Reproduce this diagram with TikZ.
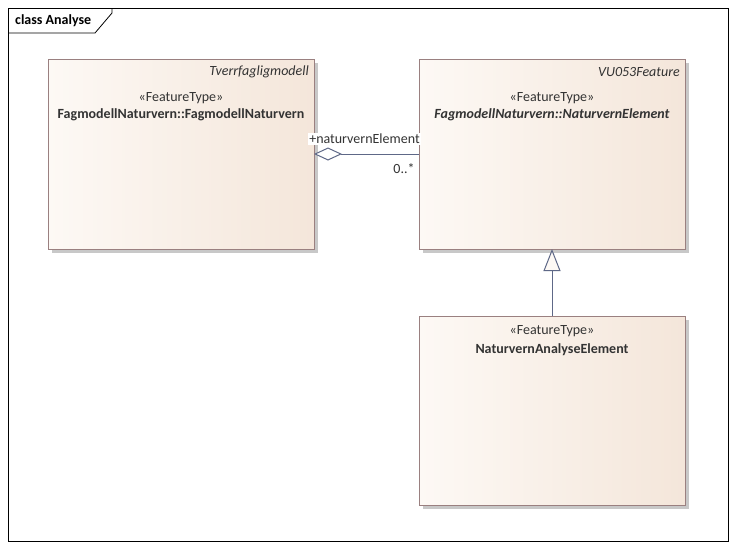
\documentclass[tikz,border=0pt]{standalone}
\usepackage{fontspec}
\setmainfont{Carlito}
\usetikzlibrary{arrows.meta}
\definecolor{boxborder}{HTML}{9A8080}
\definecolor{boxleft}{HTML}{FDF9F5}
\definecolor{boxright}{HTML}{F4E6DA}
\definecolor{linecol}{HTML}{5E6887}
\definecolor{shadowcol}{HTML}{C8C8C8}
\tikzset{
  umlbox/.style={draw=boxborder, line width=0.9pt, left color=boxleft, right color=boxright},
  shadowbox/.style={fill=shadowcol, draw=none},
  txt/.style={inner sep=0pt, font=\fontsize{14}{16}\selectfont, text=black!80},
  conn/.style={draw=linecol, line width=1pt},
}
\begin{document}
\begin{tikzpicture}[x=1pt,y=-1pt]
\useasboundingbox (0,0) rectangle (736,549);
\fill[white] (0,0) rectangle (736,549);
% frame
\draw[line width=0.8pt] (8,8) rectangle (728,541);
\draw[line width=0.8pt] (8,33) -- (95,33) -- (112,13) -- (112,8);
\node[txt, anchor=west, font=\fontsize{14}{16}\selectfont\bfseries, text=black] (title) at (15,20.5) {class Analyse};
% shadows
\fill[shadowbox] (52,63) rectangle (318,253);
\fill[shadowbox] (423,63) rectangle (689,253);
\fill[shadowbox] (423,320) rectangle (689,509);
% boxes
\path[umlbox] (48,59) rectangle (314,249);
\path[umlbox] (419,59) rectangle (685,249);
\path[umlbox] (419,316) rectangle (685,505);
\node[txt, anchor=east, font=\fontsize{14}{16}\selectfont\itshape] (p1) at (309,72) {Tverrfagligmodell};
\node[txt] (s1) at (181,98) {«FeatureType»};
\node[txt, font=\fontsize{14}{16}\selectfont\bfseries] (n1) at (181,115) {FagmodellNaturvern::FagmodellNaturvern};
\node[txt, anchor=east, font=\fontsize{14}{16}\selectfont\itshape] (p2) at (680,72) {VU053Feature};
\node[txt] (s2) at (552,98) {«FeatureType»};
\node[txt, font=\fontsize{14}{16}\selectfont\bfseries\itshape] (n2) at (552,115) {FagmodellNaturvern::NaturvernElement};
\node[txt] (s3) at (552,331) {«FeatureType»};
\node[txt, font=\fontsize{14}{16}\selectfont\bfseries] (n3) at (552,350) {NaturvernAnalyseElement};
% connector anchors
\coordinate (aggL) at (314,154);
\coordinate (aggR) at (419,154);
\coordinate (genB) at (552,316);
\coordinate (genT) at (552,249);
% aggregation
\draw[conn, {Diamond[open, fill=white, length=28pt, width=13pt, line width=1pt]}-] (aggL) -- (aggR);
\node[txt, fill=white, inner sep=1pt] (role) at (364.5,139) {+naturvernElement};
\node[txt] (mult) at (404,169) {0..*};
% generalization
\draw[conn, -{Triangle[open, fill=boxleft, length=22pt, width=17pt, line width=1pt]}] (genB) -- (genT);
\end{tikzpicture}
\end{document}
